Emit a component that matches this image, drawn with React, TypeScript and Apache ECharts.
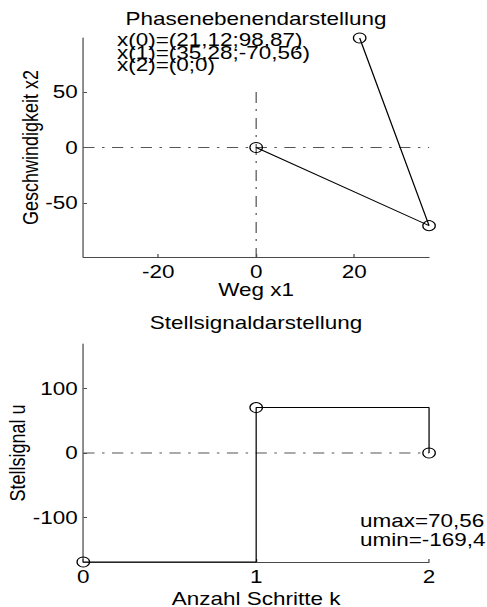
import { useEffect, useRef } from "react";
import * as echarts from "echarts";

// Phase-plane trajectory of the state x = (x1; x2)
const phaseX1 = [21.12, 35.28, 0];
const phaseX2 = [98.87, -70.56, 0];
const phaseNotes = ["x(0)=(21,12;98,87)", "x(1)=(35,28;-70,56)", "x(2)=(0;0)"];

// Control signal per step k
const stepK = [0, 1, 2];
const controlU = [-169.4, 70.56, 0];
const uMaxText = "umax=70,56";
const uMinText = "umin=-169,4";

// Axis limits and tick values
const x1Limit = 35.28;
const x2Limit = 98.87;
const uLimit = 169.4;
const kRange = [0, 2];
const x1Ticks = [-20, 0, 20];
const x2Ticks = [-50, 0, 50];
const kTicks = [0, 1, 2];
const uTicks = [-100, 0, 100];
const verticalGuideTop = 50;

// The figure is rendered narrower and widened horizontally as a whole
const PAGE_W = 487;
const PAGE_H = 607;
const INNER_W = 390;
const STRETCH = PAGE_W / INNER_W;

const FONT = '"Liberation Sans", Arial, Helvetica, sans-serif';
const AXIS = "#4a4a4a";
const GUIDE = "#555555";
const text18 = { fontFamily: FONT, fontSize: 18, color: "#000" };

function valueAxis(gridIndex: number, min: number, max: number, ticks: number[], extra: any) {
  return {
    gridIndex,
    type: "value",
    min,
    max,
    axisLine: { show: true, onZero: false, lineStyle: { color: AXIS, width: 1 } },
    axisTick: { show: true, inside: true, length: 3, customValues: ticks, lineStyle: { color: AXIS, width: 1 } },
    axisLabel: { customValues: ticks, ...text18 },
    splitLine: { show: false },
    nameLocation: "middle",
    nameMoveOverlap: false,
    nameTextStyle: { ...text18 },
    ...extra,
  };
}

export default function App() {
  const ref = useRef<HTMLDivElement>(null);

  useEffect(() => {
    if (!ref.current) return;
    const chart = echarts.init(ref.current, null, { renderer: "svg", width: INNER_W, height: PAGE_H });

    const markerStyle = { color: "transparent", borderColor: "#000", borderWidth: 1 };

    chart.setOption({
      animation: false,
      backgroundColor: "#fff",
      title: [
        { text: "Phasenebenendarstellung", left: 205, top: 9.5, textAlign: "center", padding: 0, textStyle: { ...text18, fontWeight: "normal" } },
        { text: "Stellsignaldarstellung", left: 205, top: 314, textAlign: "center", padding: 0, textStyle: { ...text18, fontWeight: "normal" } },
      ],
      grid: [
        { left: 66.7, top: 38, width: 276.9, height: 219, containLabel: false, outerBoundsMode: "none" },
        { left: 66.7, top: 344, width: 276.9, height: 218, containLabel: false, outerBoundsMode: "none" },
      ],
      xAxis: [
        valueAxis(0, -x1Limit, x1Limit, x1Ticks, { name: "Weg x1", nameGap: 24, axisLabel: { customValues: x1Ticks, margin: 6, ...text18 } }),
        valueAxis(1, kRange[0], kRange[1], kTicks, { name: "Anzahl Schritte k", nameGap: 27.5, axisLabel: { customValues: kTicks, margin: 6, ...text18 } }),
      ],
      yAxis: [
        valueAxis(0, -x2Limit, x2Limit, x2Ticks, { name: "Geschwindigkeit x2", nameGap: 33.5, axisLabel: { customValues: x2Ticks, margin: 4.5, ...text18 } }),
        valueAxis(1, -uLimit, uLimit, uTicks, { name: "Stellsignal u", nameGap: 44, axisLabel: { customValues: uTicks, margin: 4.5, ...text18 } }),
      ],
      series: [
        {
          type: "line",
          xAxisIndex: 0,
          yAxisIndex: 0,
          data: [[-x1Limit, 0], [x1Limit, 0]],
          symbol: "none",
          silent: true,
          lineStyle: { color: GUIDE, width: 1, type: [9, 6, 2, 6] },
          z: 1,
        },
        {
          type: "line",
          xAxisIndex: 0,
          yAxisIndex: 0,
          data: [[0, verticalGuideTop], [0, -x2Limit]],
          symbol: "none",
          silent: true,
          lineStyle: { color: GUIDE, width: 1, type: [11, 6, 2, 7] },
          z: 1,
        },
        {
          type: "line",
          xAxisIndex: 0,
          yAxisIndex: 0,
          data: phaseX1.map((x, i) => [x, phaseX2[i]]),
          symbol: "circle",
          symbolSize: 10,
          clip: false,
          itemStyle: markerStyle,
          lineStyle: { color: "#000", width: 1 },
          z: 3,
        },
        {
          type: "line",
          xAxisIndex: 1,
          yAxisIndex: 1,
          data: [[kRange[0], 0], [kRange[1], 0]],
          symbol: "none",
          silent: true,
          lineStyle: { color: GUIDE, width: 1, type: [9, 6, 2, 6] },
          z: 1,
        },
        {
          type: "line",
          xAxisIndex: 1,
          yAxisIndex: 1,
          step: "end",
          data: stepK.map((k, i) => [k, controlU[i]]),
          symbol: "circle",
          symbolSize: 10,
          clip: false,
          itemStyle: markerStyle,
          lineStyle: { color: "#000", width: 1 },
          z: 3,
        },
      ],
      graphic: [
        {
          type: "text",
          x: 93.7,
          y: 52.5,
          style: {
            text: phaseNotes.join("\n"),
            font: `18px ${FONT}`,
            fill: "#000",
            lineHeight: 12.5,
            verticalAlign: "middle",
          },
        },
        {
          type: "text",
          x: 288.3,
          y: 530.3,
          style: {
            text: [uMaxText, uMinText].join("\n"),
            font: `18px ${FONT}`,
            fill: "#000",
            lineHeight: 18.5,
            verticalAlign: "middle",
          },
        },
      ],
    });

    return () => chart.dispose();
  }, []);

  return (
    <div
      style={{
        position: "fixed",
        left: 0,
        top: 0,
        width: PAGE_W,
        height: PAGE_H,
        overflow: "hidden",
        background: "#fff",
      }}
    >
      <div
        ref={ref}
        style={{
          width: INNER_W,
          height: PAGE_H,
          transform: `scaleX(${STRETCH})`,
          transformOrigin: "0 0",
        }}
      />
    </div>
  );
}
